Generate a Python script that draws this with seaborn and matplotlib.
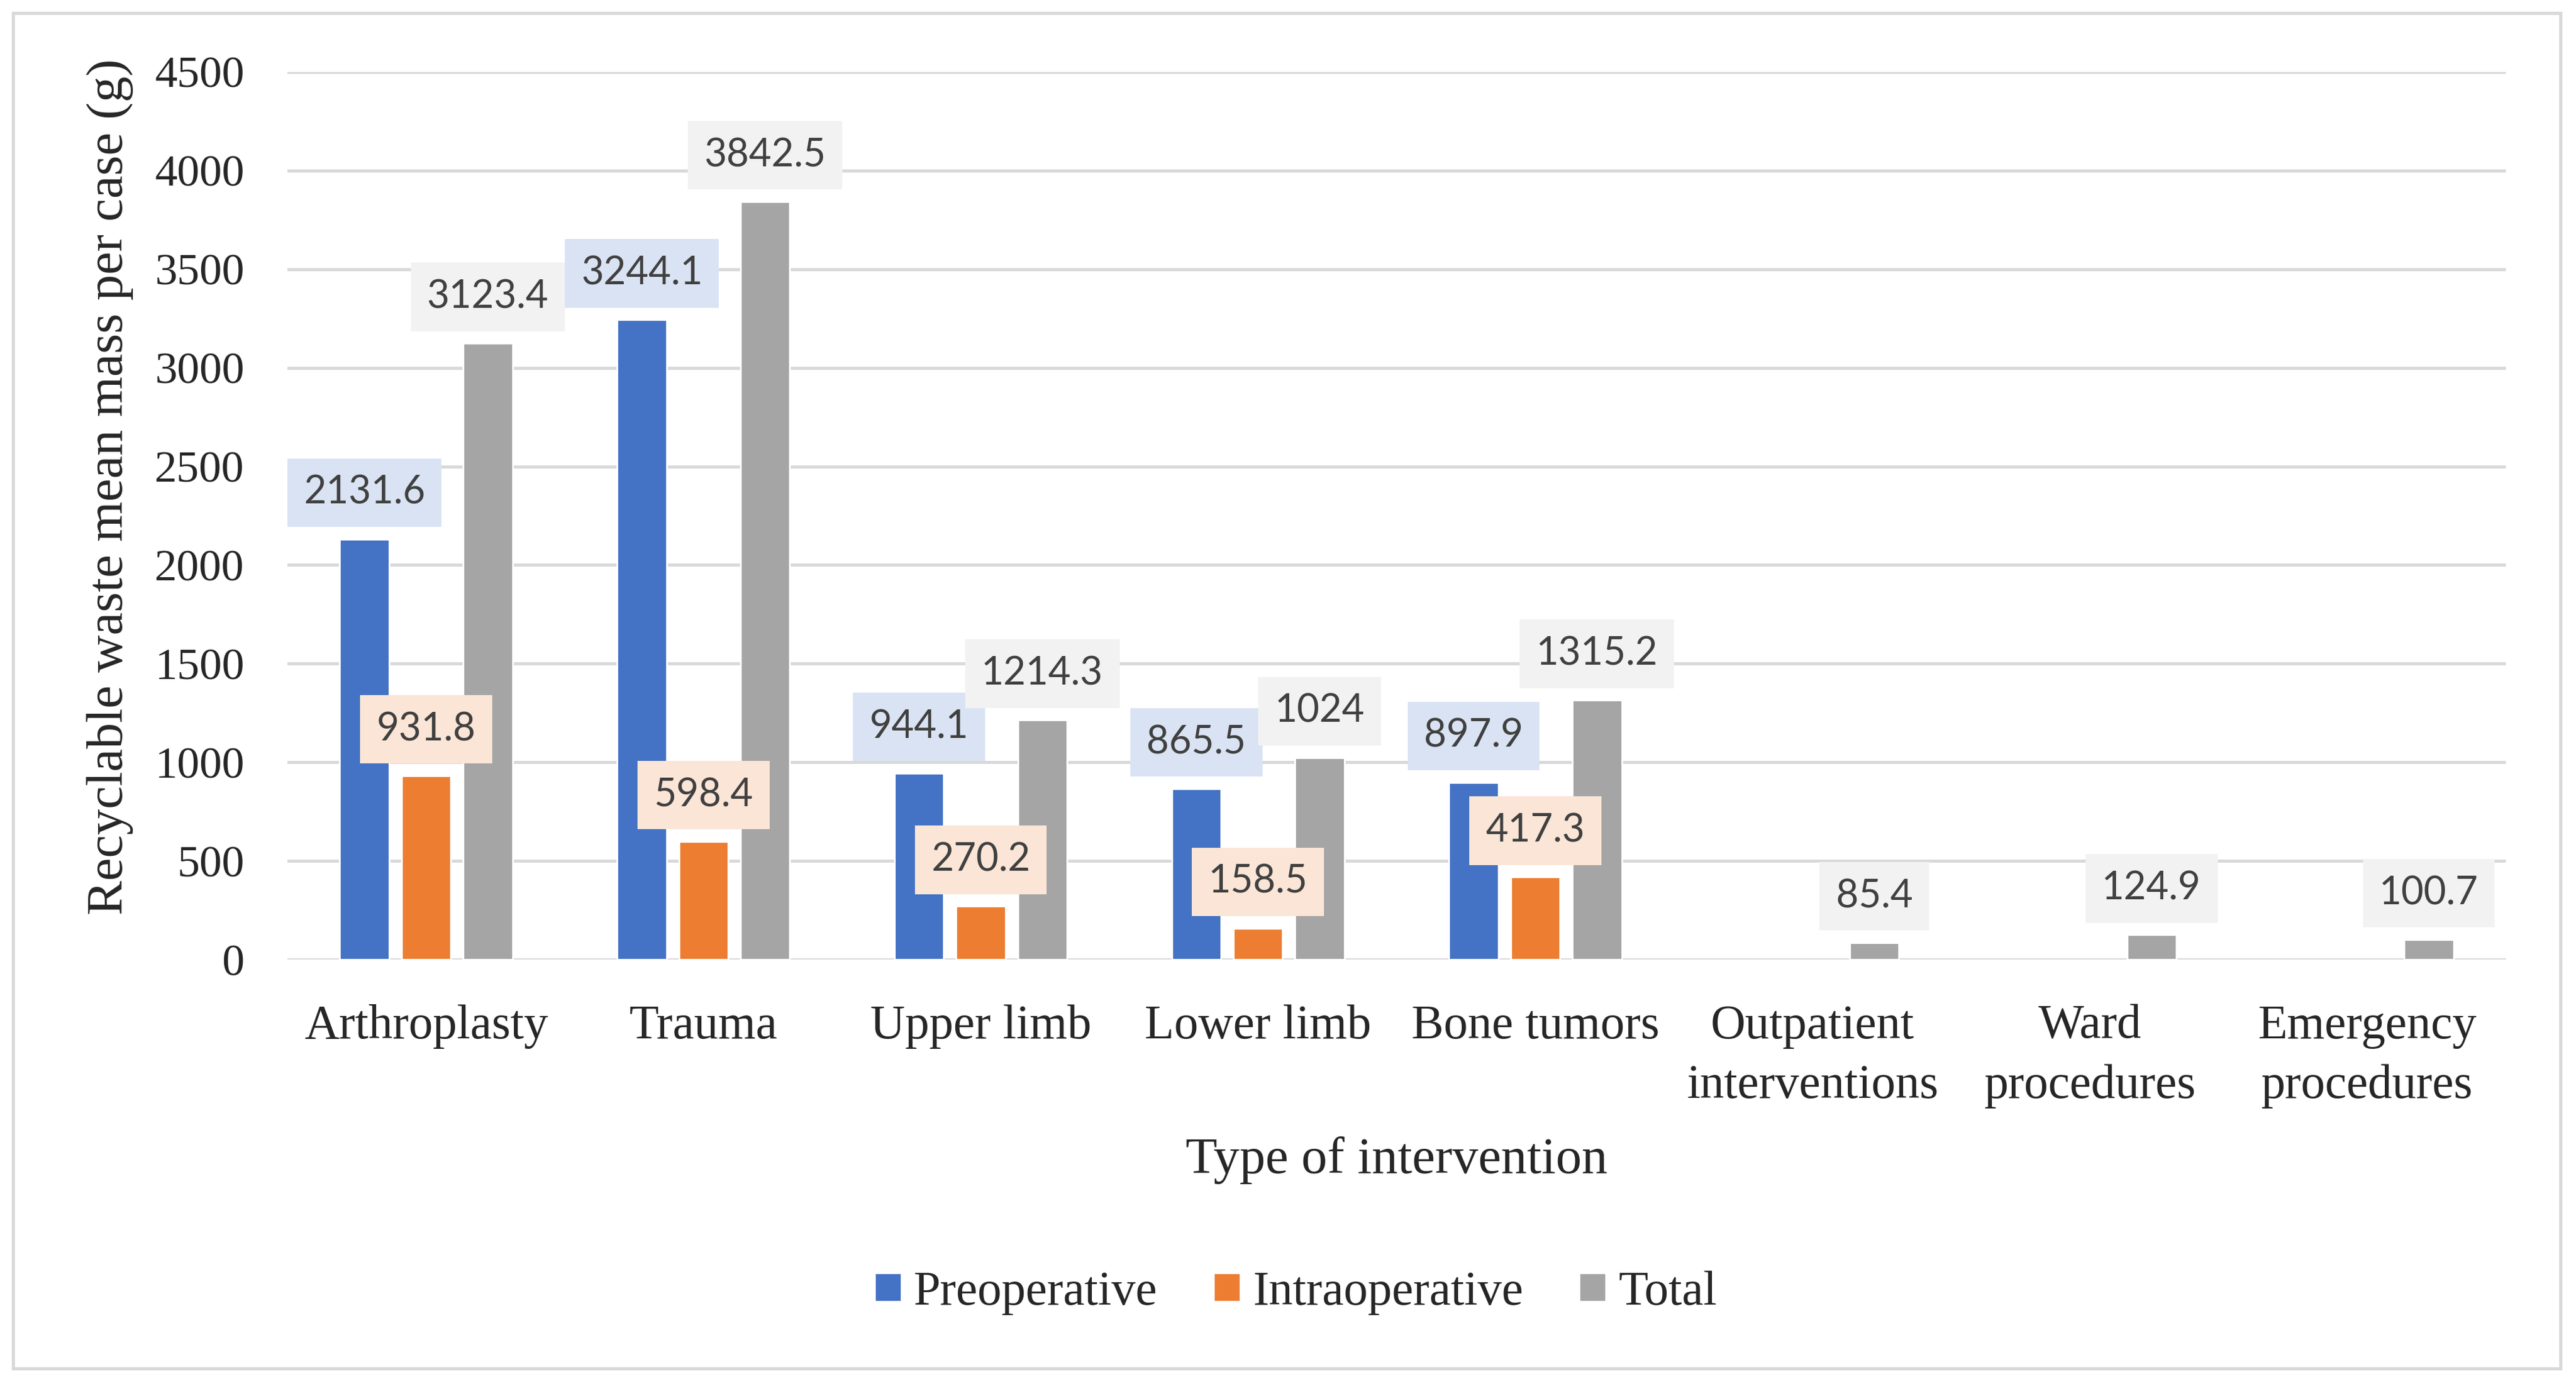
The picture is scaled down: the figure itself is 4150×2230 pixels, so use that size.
import numpy as np
import pandas as pd
import matplotlib
matplotlib.use("Agg")
import matplotlib.pyplot as plt
from matplotlib.patches import Rectangle
import seaborn as sns

# data
categories = ["Arthroplasty", "Trauma", "Upper limb", "Lower limb", "Bone tumors",
              "Outpatient\ninterventions", "Ward\nprocedures", "Emergency\nprocedures"]
preoperative = [2131.6, 3244.1, 944.1, 865.5, 897.9, np.nan, np.nan, np.nan]
intraoperative = [931.8, 598.4, 270.2, 158.5, 417.3, np.nan, np.nan, np.nan]
total = [3123.4, 3842.5, 1214.3, 1024, 1315.2, 85.4, 124.9, 100.7]
phases = ["Preoperative", "Intraoperative", "Total"]
bar_colors = ["#4472C4", "#ED7D31", "#A5A5A5"]
label_bg = ["#DAE3F3", "#FBE5D6", "#F2F2F2"]
y_ticks = list(range(0, 4501, 500))

df = pd.DataFrame({"category": categories,
                   "Preoperative": preoperative,
                   "Intraoperative": intraoperative,
                   "Total": total})
long_df = df.melt(id_vars="category", var_name="phase", value_name="value")

sns.set_style("white")
plt.rcParams['font.family'] = ['Liberation Serif', 'DejaVu Serif']

fig = plt.figure(figsize=(20.75, 11.15), dpi=200)
ax = fig.add_axes([0.1116, 0.3067, 0.8612, 0.6413])

sns.barplot(data=long_df, x="category", y="value", hue="phase",
            hue_order=phases, order=categories, palette=bar_colors,
            saturation=1, width=0.667, gap=0.2, errorbar=None, ax=ax)

# data labels with tinted boxes
for cont, bg in zip(ax.containers, label_bg):
    ax.bar_label(cont, fmt=lambda v: f"{v:g}", padding=16.5,
                 fontsize=22.5, family="Lato", color="#404040",
                 bbox=dict(boxstyle="square,pad=0.42", fc=bg, ec="none"),
                 clip_on=False)

ax.set_ylim(0, 4500)
ax.set_xlim(-0.5, len(categories) - 0.5)
ax.set_yticks(y_ticks)
ax.yaxis.grid(True, color="#D9D9D9", linewidth=1.8)
ax.set_axisbelow(True)
for s in ax.spines.values():
    s.set_visible(False)

ax.tick_params(axis="x", length=0, pad=26, labelsize=28)
ax.tick_params(axis="y", length=0, pad=25, labelsize=26)
for t in ax.get_xticklabels():
    t.set_linespacing(1.45)

ax.set_xlabel("Type of intervention", fontsize=30, va="center")
ax.xaxis.set_label_coords(0.5, -0.226)
ax.set_ylabel("Recyclable waste mean mass per case (g)", fontsize=30, va="center")
ax.yaxis.set_label_coords(-0.080, 0.533)

handles, labels = ax.get_legend_handles_labels()
ax.get_legend().remove()
fig.legend(handles, labels, loc="center", bbox_to_anchor=(0.503, 0.066),
           ncol=3, frameon=False, fontsize=28, handlelength=0.55,
           handleheight=0.55, handletextpad=0.26, columnspacing=1.16)

# outer chart border
fig.patches.append(Rectangle((21 / 4150, 1 - 2205 / 2230), 4104 / 4150, 2184 / 2230,
                             transform=fig.transFigure, fill=False,
                             ec="#D9D9D9", lw=1.8))

plt.savefig("out.png", dpi=200)
